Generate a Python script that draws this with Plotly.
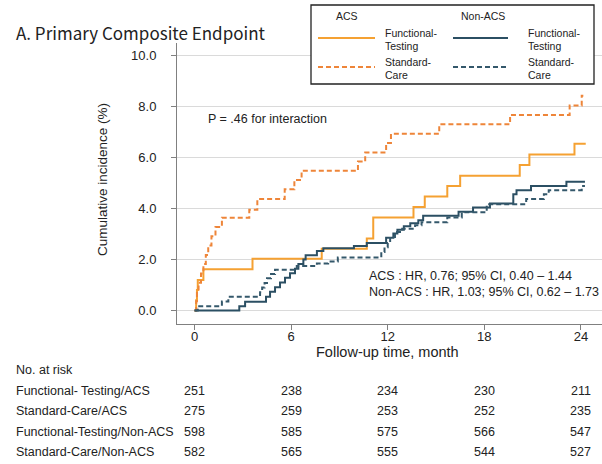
import plotly.graph_objects as go

# Kaplan-Meier style cumulative incidence (%), step times in months
acs_ft_t = [0, 0.1, 0.15, 0.2, 0.55, 3.6, 7.9, 10.7, 11.1, 13.6, 14.3, 15.7, 16.5, 20.2, 20.8, 23.6, 24.3]
acs_ft_y = [0, 0.4, 0.8, 1.2, 1.62, 2.03, 2.42, 2.82, 3.65, 4.06, 4.47, 4.88, 5.28, 5.71, 6.12, 6.54, 6.54]

acs_sc_t = [0, 0.1, 0.15, 0.25, 0.4, 0.55, 0.7, 0.85, 1.05, 1.3, 1.7, 3.4, 3.9, 5.6, 6.2, 6.65,
            10.15, 10.6, 11.9, 12.2, 15.2, 19.6, 23.3, 24.05, 24.15]
acs_sc_y = [0, 0.36, 0.73, 1.09, 1.45, 1.82, 2.18, 2.55, 2.91, 3.27, 3.64, 3.95, 4.37, 4.75, 5.12, 5.48,
            5.84, 6.2, 6.57, 6.93, 7.3, 7.67, 8.04, 8.42, 8.42]

nonacs_ft_t = [0, 2.78, 3.14, 4.44, 4.69, 5.0, 5.31, 5.62, 5.93, 6.24, 6.45, 6.76, 6.9, 7.6, 8.0, 9.9,
               10.7, 11.9, 12.35, 12.6, 13.0, 13.4, 13.9, 14.2, 16.4, 17.3, 18.35, 19.8, 20.0, 20.9, 23.1, 24.25]
nonacs_ft_y = [0, 0.17, 0.34, 0.54, 0.73, 0.91, 1.1, 1.28, 1.46, 1.64, 1.82, 2.0, 2.17, 2.33, 2.44, 2.53,
               2.65, 2.85, 3.02, 3.17, 3.3, 3.42, 3.54, 3.72, 3.87, 4.04, 4.2, 4.56, 4.72, 4.88, 5.05, 5.05]

nonacs_sc_t = [0, 0.2, 1.7, 2.1, 4.07, 4.2, 4.35, 4.5, 4.75, 5.0, 6.35, 7.6, 8.3, 8.9, 11.6, 11.8, 12.0,
               12.15, 12.45, 12.9, 13.7, 14.1, 15.7, 16.6, 18.15, 20.6, 21.7, 22.0, 24.05, 24.25]
nonacs_sc_y = [0, 0.17, 0.35, 0.54, 0.72, 0.9, 1.08, 1.26, 1.43, 1.6, 1.74, 1.84, 1.92, 2.08, 2.29, 2.48, 2.65,
               2.88, 3.08, 3.21, 3.34, 3.46, 3.65, 3.85, 4.17, 4.37, 4.56, 4.72, 4.88, 4.88]

# Number-at-risk table
risk_times = [0, 6, 12, 18, 24]
risk_labels = ["Functional- Testing/ACS", "Standard-Care/ACS",
               "Functional-Testing/Non-ACS", "Standard-Care/Non-ACS"]
risk_counts = [
    [251, 238, 234, 230, 211],
    [275, 259, 253, 252, 235],
    [598, 585, 575, 566, 547],
    [582, 565, 555, 544, 527],
]

y_ticks = [0, 2, 4, 6, 8, 10]
y_tick_text = ["0.0", "2.0", "4.0", "6.0", "8.0", "10.0"]
x_ticks = [0, 6, 12, 18, 24]

ORANGE = "#F5A132"
ORANGE_D = "#EE8539"
TEAL = "#2B4F63"
TEAL_D = "#34586B"

W, H = 602, 464
L, R, T, B = 177, 0, 43, 140
PW, PH = W - L - R, H - T - B


def fx(x):
    return (x - L) / PW


def fy(y):
    return (H - B - y) / PH


fig = go.Figure()
series = [
    (acs_ft_t, acs_ft_y, ORANGE, "solid"),
    (acs_sc_t, acs_sc_y, ORANGE_D, "5px,3px"),
    (nonacs_ft_t, nonacs_ft_y, TEAL, "solid"),
    (nonacs_sc_t, nonacs_sc_y, TEAL_D, "5px,3px"),
]
for t, y, c, d in series:
    fig.add_trace(go.Scatter(x=t, y=y, mode="lines", line=dict(color=c, width=2, dash=d, shape="hv"),
                             showlegend=False, hoverinfo="skip"))

AX = "#808080"
fig.update_layout(
    width=W, height=H, margin=dict(l=L, r=R, t=T, b=B),
    paper_bgcolor="white", plot_bgcolor="white",
    font=dict(family="Liberation Sans, Arial, sans-serif", color="#222222", size=13),
    xaxis=dict(range=[-1.09, 25.31], tickvals=x_ticks, ticks="outside", ticklen=5, tickcolor=AX,
               showline=True, linecolor=AX, linewidth=1, showgrid=False, zeroline=False,
               ticklabelstandoff=-5, tickfont=dict(size=13, color="#222222")),
    yaxis=dict(range=[-0.53, 10.49], tickvals=y_ticks, ticktext=y_tick_text, ticks="outside", ticklen=5,
               tickcolor=AX, showline=True, linecolor=AX, linewidth=1, showgrid=True, gridcolor="#DADADA",
               gridwidth=1, zeroline=False, ticklabelstandoff=12, tickfont=dict(size=13, color="#222222")),
)

ann = []
shapes = []


def text(s, x, y, size=12.5, anchor="left", **kw):
    font = dict(size=size, color="#222222")
    if "family" in kw:
        font["family"] = kw.pop("family")
    ann.append(dict(text=s, x=fx(x), y=fy(y), xref="paper", yref="paper", xanchor=anchor,
                    yanchor="middle", showarrow=False, font=font, **kw))


# Title and axis titles
text("A. Primary Composite Endpoint", 14, 33, size=17, family="Noto Sans CJK KR")
text("Follow-up time, month", 387, 352, size=14.5, anchor="center")
text("Cumulative incidence (%)", 102, 180, size=13.5, anchor="center", textangle=-90)

# In-plot statistics
text("P = .46 for interaction", 206, 119)
text("ACS : HR, 0.76; 95% CI, 0.40 \u2013 1.44", 367, 276)
text("Non-ACS : HR, 1.03; 95% CI, 0.62 \u2013 1.73", 367, 292)

# Legend box
shapes.append(dict(type="rect", xref="paper", yref="paper", x0=fx(311), x1=fx(594), y0=fy(5), y1=fy(84),
                   line=dict(color="#222222", width=1.3), fillcolor="white", layer="above"))
text("ACS", 334, 16, size=10.5)
text("Non-ACS", 459, 16, size=10.5)
legend_items = [
    (318, 375, 383, 38, ORANGE, "solid", ("Functional-", "Testing")),
    (318, 375, 383, 67, ORANGE_D, "5px,3px", ("Standard-", "Care")),
    (453, 508, 526, 38, TEAL, "solid", ("Functional-", "Testing")),
    (453, 508, 526, 67, TEAL_D, "5px,3px", ("Standard-", "Care")),
]
for x0, x1, tx, yy, c, d, (l1, l2) in legend_items:
    shapes.append(dict(type="line", xref="paper", yref="paper", x0=fx(x0), x1=fx(x1), y0=fy(yy), y1=fy(yy),
                       line=dict(color=c, width=2, dash=d), layer="above"))
    text(l1, tx, yy - 5, size=10.5)
    text(l2, tx, yy + 8, size=10.5)

# Risk table
text("No. at risk", 14, 370)
row_y = [390.5, 411, 431.5, 452]
for lab, counts, yy in zip(risk_labels, risk_counts, row_y):
    text(lab, 14, yy)
    for t, n in zip(risk_times, counts):
        ann.append(dict(text=str(n), x=t, y=fy(yy), xref="x", yref="paper", xanchor="center",
                        yanchor="middle", showarrow=False, font=dict(size=12.5, color="#222222")))

fig.update_layout(annotations=ann, shapes=shapes)
fig.write_html("out.html")
